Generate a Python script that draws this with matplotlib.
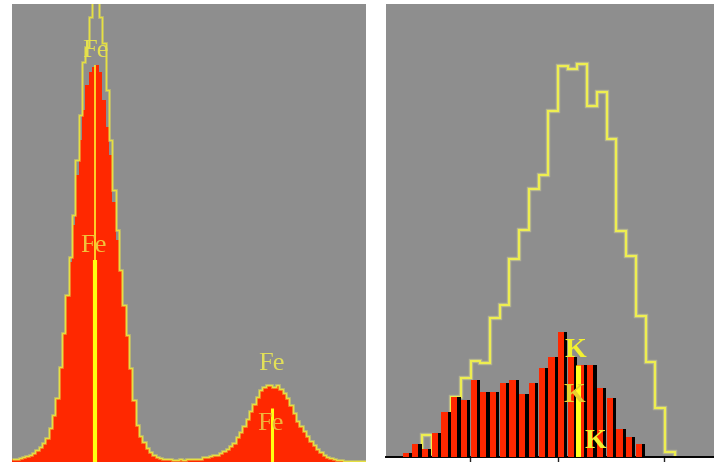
import numpy as np
import matplotlib
matplotlib.use('Agg')
import matplotlib.pyplot as plt

# 左图: Fe 能谱 (keV), 红色 = 测量谱, 黄色 = 参考谱
fe_start, fe_stop = 6.09, 7.41
fe_red = [3, 3, 4, 5, 6, 7, 9, 12, 15, 19,
          24, 34, 47, 64, 95, 129, 167, 200, 237, 287,
          322, 352, 377, 390, 395, 397, 390, 362, 335, 307,
          260, 222, 192, 157, 127, 94, 62, 37, 26, 20,
          14, 10, 7, 5, 4, 3, 3, 3, 2, 2,
          3, 2, 3, 3, 3, 3, 3, 5, 5, 6,
          7, 7, 9, 11, 13, 16, 19, 25, 30, 36,
          43, 51, 58, 65, 72, 75, 77, 77, 75, 77,
          73, 69, 64, 57, 49, 41, 36, 31, 26, 21,
          17, 13, 10, 7, 5, 4, 3, 2, 2, 1,
          1, 1, 1, 1, 1, 1]
fe_ref = [3, 3, 4, 5, 6, 7, 9, 12, 15, 19,
          24, 34, 47, 64, 95, 129, 167, 205, 247, 302,
          347, 400, 415, 445, 470, 470, 445, 419, 372, 322,
          272, 232, 192, 157, 127, 94, 62, 37, 26, 20,
          14, 10, 7, 5, 4, 3, 3, 3, 2, 2,
          3, 2, 3, 3, 3, 3, 3, 5, 5, 6,
          7, 7, 9, 11, 13, 16, 19, 25, 30, 36,
          43, 51, 58, 65, 72, 75, 77, 77, 75, 77,
          73, 69, 64, 57, 49, 41, 36, 31, 26, 21,
          17, 13, 10, 7, 5, 4, 3, 2, 2, 1,
          1, 1, 1, 1, 1, 1]
fe_lines = [6.40, 7.058]        # Fe Ka, Fe Kb
fe_line_tops = [202, 54]
fe_ka_thin_top = 397

# 右图: K 能谱, 每个 bin 一根柱子
k_red = [3.3, 12.3, 7.3, 24, 45, 59.3, 56.7, 76.7, 64.3, 64.3,
         73.3, 76.7, 62.7, 73.3, 88.3, 100, 124.7, 100, 91.7, 91.7,
         68.3, 58.3, 27.3, 19.3, 12.3]
k_ref = [21.5, 2.5, 21.5, 59.5, 78.5, 96, 94, 138.5, 151.5, 197.5,
         226.5, 267.5, 281.5, 345.5, 390.8, 387.5, 392.5, 350.5, 364.8, 317.5,
         225.5, 200.5, 140.8, 94.8, 48.2, 4.8]
k_ref_first_bin = 2
k_line = 18.1
k_line_top = 91.5
k_ticks = [6.95, 16.0, 26.9]

gray = '#8e8e8e'
red = '#ff2800'
serif = ['Liberation Serif', 'DejaVu Serif']

fig = plt.figure(figsize=(7.14, 4.62), dpi=100)

# ---- 左图 ----
ax1 = fig.add_axes([12 / 714, 0, 354 / 714, 458 / 462])
ax1.set_facecolor(gray)
edges = np.linspace(fe_start, fe_stop, len(fe_red) + 1)
ax1.stairs(fe_red, edges, fill=True, color=red, baseline=0)
ax1.stairs(fe_ref, edges, color='#e8e860', lw=2.2, alpha=0.35, baseline=None)
ax1.stairs(fe_ref, edges, color='#e6e040', lw=1.0, baseline=None)

ax1.text(6.40, 405, 'Fe', color='#e4e050', fontsize=19, family=serif, ha='center', va='baseline')
ax1.text(6.392, 210, 'Fe', color='#f2c23a', fontsize=19, family=serif, ha='center', va='baseline')
ax1.text(7.056, 92, 'Fe', color='#e2e058', fontsize=19, family=serif, ha='center', va='baseline')
ax1.text(7.052, 32, 'Fe', color='#f0b43a', fontsize=19, family=serif, ha='center', va='baseline')

ax1.vlines(fe_lines[0], 0, fe_ka_thin_top, color='#ffee30', lw=1.2)
ax1.vlines(fe_lines, 0, fe_line_tops, color='#ffff10', lw=[3.0, 2.2])

ax1.set_xlim(fe_start, fe_stop)
ax1.set_ylim(0, 458)
ax1.set_xticks([])
ax1.set_yticks([])
for s in ax1.spines.values():
    s.set_visible(False)

# ---- 右图 ----
ax2 = fig.add_axes([386 / 714, 5.5 / 462, 328 / 714, 452.5 / 462])
ax2.set_facecolor(gray)

# 参考谱画在柱子后面
k_edges = np.arange(k_ref_first_bin, k_ref_first_bin + len(k_ref) + 1)
ax2.stairs(k_ref, k_edges, color='#f0f0a0', lw=3.2, alpha=0.35, baseline=0, zorder=1)
ax2.stairs(k_ref, k_edges, color='#eeee50', lw=1.6, baseline=0, zorder=1.5)

pos = np.arange(len(k_red))
ax2.bar(pos, k_red, width=0.97, align='edge', color='black', zorder=2)
ax2.bar(pos, k_red, width=0.64, align='edge', color=red, zorder=3)

ax2.vlines(k_line, 0, k_line_top, color='#ffff20', lw=3.6, zorder=6)
ax2.text(17.75, 99.5, 'K', color='#f2f030', fontsize=20, weight='bold', family=serif,
         ha='center', va='baseline', zorder=7)
ax2.text(17.64, 54.5, 'K', color='#e8d030', fontsize=20, weight='bold', family=serif,
         ha='center', va='baseline', zorder=7)
ax2.text(19.8, 8.5, 'K', color='#f2f030', fontsize=20, weight='bold', family=serif,
         ha='center', va='baseline', zorder=7)

ax2.set_xlim((386 - 402.5) / 9.72, (714 - 402.5) / 9.72)
ax2.set_ylim(0, 452.5)
ax2.set_yticks([])
ax2.set_xticks(k_ticks)
ax2.set_xticklabels([])
ax2.tick_params(axis='x', direction='out', length=4.5, width=1.0, color='#222222')
for name, s in ax2.spines.items():
    s.set_visible(name == 'bottom')
ax2.spines['bottom'].set_color('black')
ax2.spines['bottom'].set_linewidth(1.4)

fig.savefig('out.png', dpi=100)
